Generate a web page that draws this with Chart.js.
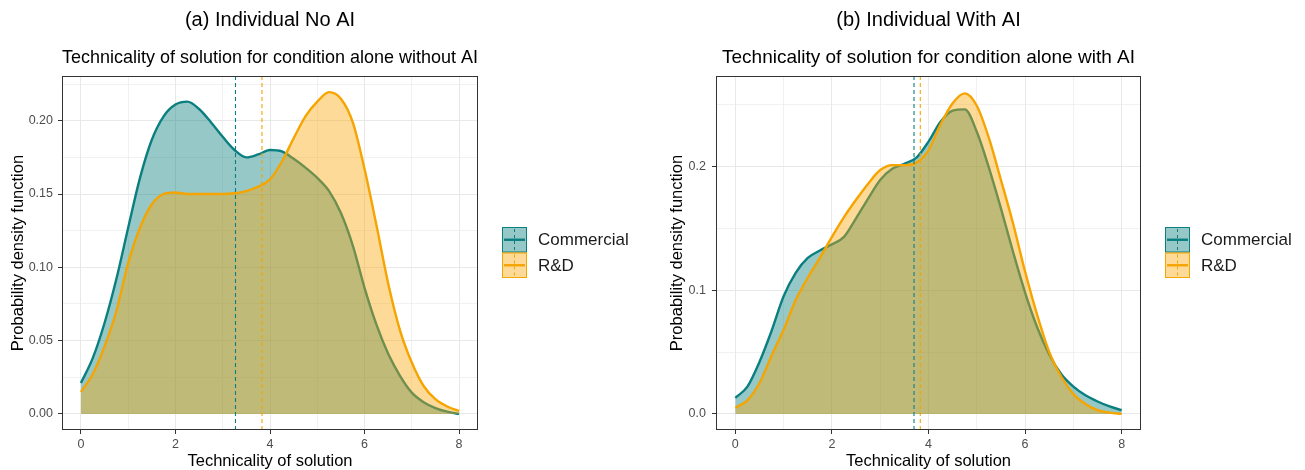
<!DOCTYPE html>
<html>
<head>
<meta charset="utf-8">
<script src="https://cdn.jsdelivr.net/npm/chart.js@4.4.1/dist/chart.umd.min.js"></script>
<style>
  body { margin: 0; background: #fff; }
  #wrap { display: flex; width: 1305px; height: 470px; }
  canvas { display: block; }
</style>
</head>
<body>
<div id="wrap">
  <canvas id="leftChart" width="652" height="470"></canvas>
  <canvas id="rightChart" width="653" height="470"></canvas>
</div>
<script>
// grid of the density estimate (technicality score)
const xs = [0, 0.25, 0.5, 0.75, 1, 1.25, 1.5, 1.75, 2, 2.25, 2.5, 2.75, 3, 3.25, 3.5, 3.75,
  4, 4.25, 4.5, 4.75, 5, 5.25, 5.5, 5.75, 6, 6.25, 6.5, 6.75, 7, 7.25, 7.5, 7.75, 8];

const groups = ['Commercial', 'R&D'];

// (a) alone without AI
const noAiCommercial = [0.021, 0.038, 0.062, 0.092, 0.127, 0.161, 0.187, 0.203, 0.211, 0.213, 0.208,
  0.199, 0.189, 0.180, 0.175, 0.177, 0.180, 0.179, 0.174, 0.168, 0.161, 0.152, 0.137, 0.115, 0.086,
  0.061, 0.041, 0.026, 0.0145, 0.008, 0.004, 0.0015, 0.0];
const noAiRD = [0.015, 0.027, 0.046, 0.070, 0.103, 0.127, 0.143, 0.150, 0.151, 0.150, 0.150, 0.150,
  0.150, 0.1505, 0.152, 0.155, 0.160, 0.172, 0.188, 0.203, 0.213, 0.2195, 0.215, 0.199, 0.167, 0.129,
  0.089, 0.057, 0.035, 0.019, 0.010, 0.005, 0.002];
const noAiMeans = [3.27, 3.83];

// (b) alone with AI
const withAiCommercial = [0.013, 0.022, 0.042, 0.067, 0.095, 0.114, 0.126, 0.132, 0.137, 0.143, 0.158,
  0.174, 0.189, 0.198, 0.202, 0.207, 0.220, 0.236, 0.245, 0.246, 0.228, 0.199, 0.166, 0.131, 0.098,
  0.070, 0.048, 0.032, 0.022, 0.015, 0.010, 0.006, 0.003];
const withAiRD = [0.005, 0.011, 0.025, 0.047, 0.068, 0.092, 0.110, 0.126, 0.143, 0.159, 0.173, 0.186,
  0.197, 0.201, 0.201, 0.203, 0.213, 0.234, 0.251, 0.259, 0.249, 0.223, 0.189, 0.154, 0.115, 0.080,
  0.050, 0.030, 0.016, 0.008, 0.003, 0.001, 0.0];
const withAiMeans = [3.70, 3.83];

const lineColors = ['#0b7f80', '#f5a400'];
const fillColors = ['rgba(11,127,128,0.43)', 'rgba(250,168,10,0.42)'];
const fontFamily = '"Liberation Sans", Arial, sans-serif';

function points(ys) {
  return xs.map((x, i) => ({ x: x, y: ys[i] }));
}

// ggplot-like frame around the panel and the fill/line legend on the right
const panelFrame = {
  id: 'panelFrame',
  afterDraw(chart) {
    const ctx = chart.ctx;
    const a = chart.chartArea;
    ctx.save();
    ctx.strokeStyle = '#333333';
    ctx.lineWidth = 1;
    ctx.strokeRect(Math.round(a.left) + 0.5, Math.round(a.top) + 0.5,
      Math.round(a.width) - 1, Math.round(a.height) - 1);

    const bx = a.right + 24;
    const by = (a.top + a.bottom) / 2 - 26;
    const w = 25, h = 25.5;
    groups.forEach((name, i) => {
      const y = by + i * h;
      ctx.fillStyle = fillColors[i];
      ctx.fillRect(bx, y, w, h);
      ctx.strokeStyle = lineColors[i];
      ctx.lineWidth = 1;
      ctx.strokeRect(bx + 0.5, y + 0.5, w - 1, h - 1);
      ctx.lineWidth = 2.4;
      ctx.beginPath();
      ctx.moveTo(bx + 2, y + h / 2);
      ctx.lineTo(bx + w - 2, y + h / 2);
      ctx.stroke();
      ctx.lineWidth = 1;
      ctx.setLineDash([3, 3]);
      ctx.beginPath();
      ctx.moveTo(bx + w / 2, y + 2);
      ctx.lineTo(bx + w / 2, y + h - 2);
      ctx.stroke();
      ctx.setLineDash([]);
      ctx.fillStyle = '#1a1a1a';
      ctx.font = '17px ' + fontFamily;
      ctx.textBaseline = 'middle';
      ctx.textAlign = 'left';
      ctx.fillText(name, bx + 36, y + h / 2 + 1);
    });
    ctx.restore();
  }
};

function makeChart(id, cfg) {
  const yMin = cfg.yMin, yMax = cfg.yMax;
  const isMajorY = v => Math.abs(Math.round(v / cfg.yMajor) * cfg.yMajor - v) < 1e-6;
  const isMajorX = v => Math.abs(Math.round(v / 2) * 2 - v) < 1e-6;
  const gridColor = '#e8e8e8';

  return new Chart(document.getElementById(id), {
    type: 'line',
    data: {
      datasets: [
        {
          label: groups[0],
          data: points(cfg.commercial),
          borderColor: lineColors[0],
          backgroundColor: fillColors[0],
          borderWidth: 2.4,
          fill: 'origin',
          pointRadius: 0,
          cubicInterpolationMode: 'monotone',
          order: 3
        },
        {
          label: groups[1],
          data: points(cfg.rd),
          borderColor: lineColors[1],
          backgroundColor: fillColors[1],
          borderWidth: 2.4,
          fill: 'origin',
          pointRadius: 0,
          cubicInterpolationMode: 'monotone',
          order: 2
        },
        {
          label: 'mean ' + groups[0],
          data: [{ x: cfg.means[0], y: yMin }, { x: cfg.means[0], y: yMax }],
          borderColor: lineColors[0],
          borderWidth: 1.1,
          borderDash: [4, 3],
          fill: false,
          pointRadius: 0,
          order: 1
        },
        {
          label: 'mean ' + groups[1],
          data: [{ x: cfg.means[1], y: yMin }, { x: cfg.means[1], y: yMax }],
          borderColor: lineColors[1],
          borderWidth: 1.1,
          borderDash: [4, 3],
          fill: false,
          pointRadius: 0,
          order: 0
        }
      ]
    },
    options: {
      responsive: false,
      animation: false,
      layout: { padding: { left: 0, right: cfg.padRight, top: 0, bottom: 0 } },
      plugins: {
        legend: { display: false },
        tooltip: { enabled: false },
        title: {
          display: true,
          text: cfg.title,
          fullSize: false,
          color: '#000',
          font: { family: fontFamily, size: 20, weight: 'normal', lineHeight: 1.2 },
          padding: { top: 8, bottom: 8 }
        },
        subtitle: {
          display: true,
          text: cfg.subtitle,
          fullSize: false,
          color: '#000',
          font: { family: fontFamily, size: 19, weight: 'normal', lineHeight: 1.2 },
          padding: { top: 6.6, bottom: 6.6 }
        }
      },
      scales: {
        x: {
          type: 'linear',
          min: -0.4,
          max: 8.4,
          afterFit(scale) { scale.height = 40; },
          border: { display: false },
          grid: {
            color: c => gridColor,
            lineWidth: c => isMajorX(c.tick.value) ? 1 : 0.6,
            tickColor: c => isMajorX(c.tick.value) ? '#333333' : 'rgba(0,0,0,0)',
            tickLength: 4,
            tickWidth: 1
          },
          ticks: {
            stepSize: 1,
            includeBounds: false,
            autoSkip: false,
            maxRotation: 0,
            padding: 3,
            color: '#4d4d4d',
            font: { family: fontFamily, size: 12.5 },
            callback: v => isMajorX(v) ? String(Math.round(v)) : ''
          },
          title: {
            display: true,
            text: 'Technicality of solution',
            color: '#000',
            font: { family: fontFamily, size: 16.5, lineHeight: 1 },
            padding: { top: 0, bottom: 0 }
          }
        },
        y: {
          type: 'linear',
          min: yMin,
          max: yMax,
          afterFit(scale) { scale.width = cfg.yWidth; },
          border: { display: false },
          grid: {
            color: c => gridColor,
            lineWidth: c => isMajorY(c.tick.value) ? 1 : 0.6,
            tickColor: c => isMajorY(c.tick.value) ? '#333333' : 'rgba(0,0,0,0)',
            tickLength: 4,
            tickWidth: 1
          },
          ticks: {
            stepSize: cfg.yMajor / 2,
            includeBounds: false,
            autoSkip: false,
            maxTicksLimit: 30,
            padding: cfg.tickPad,
            color: '#4d4d4d',
            font: { family: fontFamily, size: 12.5 },
            callback: v => isMajorY(v) ? v.toFixed(cfg.decimals) : ''
          },
          title: {
            display: true,
            text: 'Probability density function',
            color: '#000',
            font: { family: fontFamily, size: 16.5, lineHeight: 1 },
            padding: { top: cfg.titlePad, bottom: 0 }
          }
        }
      }
    },
    plugins: [panelFrame]
  });
}

makeChart('leftChart', {
  title: '(a) Individual No AI',
  subtitle: 'Technicality of solution for condition alone without AI',
  commercial: noAiCommercial,
  rd: noAiRD,
  means: noAiMeans,
  yMin: -0.011,
  yMax: 0.2305,
  yMajor: 0.05,
  decimals: 2,
  yWidth: 62,
  padRight: 174,
  tickPad: 5,
  titlePad: 10
});

makeChart('rightChart', {
  title: '(b) Individual With AI',
  subtitle: 'Technicality of solution for condition alone with AI',
  commercial: withAiCommercial,
  rd: withAiRD,
  means: withAiMeans,
  yMin: -0.013,
  yMax: 0.273,
  yMajor: 0.1,
  decimals: 1,
  yWidth: 64,
  padRight: 164,
  tickPad: 6,
  titlePad: 17
});
</script>
</body>
</html>
